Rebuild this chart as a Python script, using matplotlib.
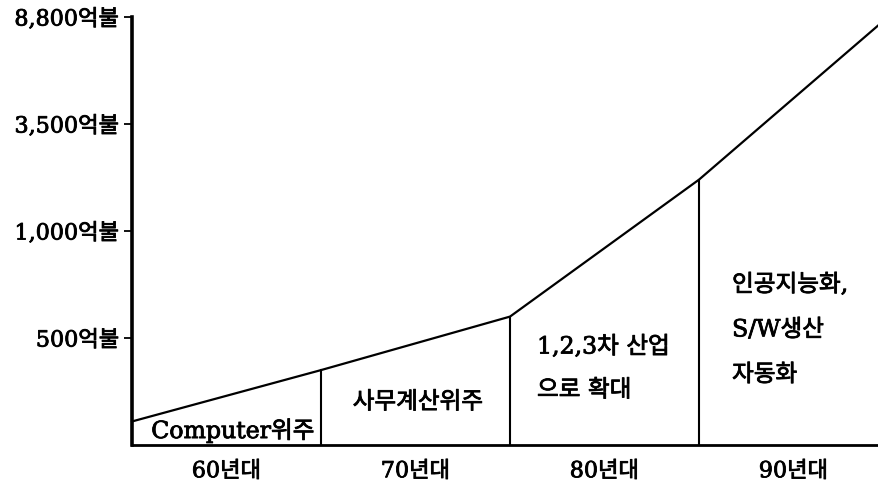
import numpy as np
import matplotlib
matplotlib.use("Agg")
import matplotlib.pyplot as plt
import matplotlib.patheffects as pe
from matplotlib.transforms import blended_transform_factory

plt.rcParams['font.family'] = ['DejaVu Serif', 'Noto Sans CJK KR']

# decades and the boundaries between them (in decade units)
decades = ['60년대', '70년대', '80년대', '90년대']
boundaries = [0, 1, 2, 3, 4]
# market size at each boundary (억불)
market = [110, 350, 600, 2200, 8800]

# y-axis ticks
tick_values = [500, 1000, 3500, 8800]
tick_labels = ['500억불', '1,000억불', '3,500억불', '8,800억불']

# characteristics of each era
era_texts = [
    ['Computer위주'],
    ['사무계산위주'],
    ['1,2,3차 산업', '으로 확대'],
    ['인공지능화,', 'S/W생산', '자동화'],
]

# piecewise-linear y scale: ticks evenly spaced
stops = [0] + tick_values
pos = list(range(len(stops)))


def fwd(v):
    return np.interp(np.asarray(v, dtype=float), stops, pos)


def inv(p):
    return np.interp(np.asarray(p, dtype=float), pos, stops)


# slightly heavier strokes for all text
thick = [pe.withStroke(linewidth=0.6, foreground='black')]

W, H = 879, 482
fig = plt.figure(figsize=(W / 100, H / 100), dpi=100)
ax = fig.add_axes([132 / W, 1 - 445 / H, (888 - 132) / W, (445 - 17) / H])
ax.set_yscale('function', functions=(fwd, inv))
ax.set_xlim(boundaries[0], boundaries[-1])
ax.set_ylim(0, tick_values[-1])

ax.plot(boundaries, market, color='black', lw=1.6, clip_on=False,
        solid_joinstyle='miter')
for b, m in zip(boundaries[1:-1], market[1:-1]):
    ax.plot([b, b], [0, m], color='black', lw=1.5)

for s in ['top', 'right']:
    ax.spines[s].set_visible(False)
ax.spines['left'].set_linewidth(2.6)
ax.spines['bottom'].set_linewidth(2.0)

ax.set_yticks(tick_values)
ax.set_yticklabels(tick_labels)
ax.yaxis.set_minor_locator(matplotlib.ticker.NullLocator())
ax.tick_params(axis='y', length=6, width=1.3, pad=3, labelsize=16)

centers = [(a + b) / 2 for a, b in zip(boundaries[:-1], boundaries[1:])]
ax.set_xticks(centers)
ax.set_xticklabels(decades)
ax.tick_params(axis='x', length=0, pad=11, labelsize=16)

for lab in ax.get_xticklabels() + ax.get_yticklabels():
    lab.set_path_effects(thick)

tr = blended_transform_factory(ax.transData, ax.transAxes)
fs = 17
kw = dict(transform=tr, va='center', fontsize=fs, path_effects=thick)
ax.text(0.534, 0.033, era_texts[0][0], ha='center', **kw)
ax.text(1.513, 0.100, era_texts[1][0], ha='center', **kw)
for line, y in zip(era_texts[2], [0.229, 0.128]):
    ax.text(2.143, y, line, ha='left', **kw)
for line, y in zip(era_texts[3], [0.374, 0.269, 0.164]):
    ax.text(3.175, y, line, ha='left', **kw)

fig.savefig('out.png', dpi=100)
